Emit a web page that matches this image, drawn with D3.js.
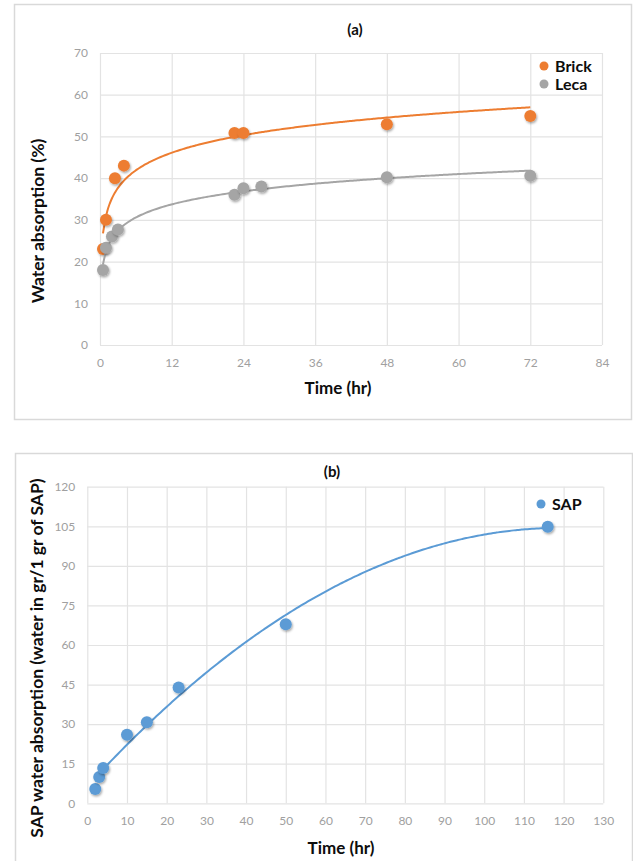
<!DOCTYPE html>
<html>
<head>
<meta charset="utf-8">
<script src="https://cdn.jsdelivr.net/npm/d3@7"></script>
<style>
  body { margin: 0; background: #fff; }
  svg { display: block; }
  .tick text { font-family: Lato, "Liberation Sans", sans-serif; font-size: 12px; fill: #a0a0a0; }
  .tick line { stroke: #e3e3e3; stroke-width: 1.2; }
  .ttl { font-family: Lato, "Liberation Sans", sans-serif; font-weight: bold; fill: #0d0d0d; }
</style>
</head>
<body>
<script>
// (a) water absorption of brick and leca
var brickTime = [0.5, 1, 2.5, 4, 22.5, 24, 48, 72];
var brickAbs = [23, 30, 40, 43, 50.8, 50.8, 52.9, 54.9];
var lecaTime = [0.5, 1, 2, 3, 22.5, 24, 27, 48, 72];
var lecaAbs = [18, 23.3, 26, 27.7, 36, 37.6, 38, 40.2, 40.6];
var ticksA_x = [0, 12, 24, 36, 48, 60, 72, 84];
var ticksA_y = [0, 10, 20, 30, 40, 50, 60, 70];

// (b) SAP water absorption
var sapTime = [2, 3, 4, 10, 15, 23, 50, 116];
var sapAbs = [5.4, 10, 13.4, 26, 30.7, 43.9, 67.9, 104.8];
var ticksB_x = [0, 10, 20, 30, 40, 50, 60, 70, 80, 90, 100, 110, 120, 130];
var ticksB_y = [0, 15, 30, 45, 60, 75, 90, 105, 120];

var W = 633, H = 861;
var svg = d3.select("body").append("svg").attr("width", W).attr("height", H);

var defs = svg.append("defs");
defs.append("filter").attr("id", "shadow")
    .attr("x", "-50%").attr("y", "-50%").attr("width", "200%").attr("height", "200%")
    .append("feDropShadow")
    .attr("dx", 1).attr("dy", 1.5).attr("stdDeviation", 1)
    .attr("flood-color", "#000").attr("flood-opacity", 0.35);

// outer frames
svg.append("rect").attr("x", 14.5).attr("y", 4.5).attr("width", 617).attr("height", 415)
    .attr("fill", "none").attr("stroke", "#d9d9d9").attr("stroke-width", 1.5);
svg.append("rect").attr("x", 15.5).attr("y", 453.5).attr("width", 617).attr("height", 420)
    .attr("fill", "none").attr("stroke", "#d9d9d9").attr("stroke-width", 1.5);

// least squares fits (same as the excel trendlines)
function logFit(xs, ys) {
    var lx = xs.map(function(d) { return Math.log(d); });
    var mx = d3.mean(lx), my = d3.mean(ys);
    var sxy = d3.sum(lx, function(d, i) { return (d - mx) * (ys[i] - my); });
    var sxx = d3.sum(lx, function(d) { return (d - mx) * (d - mx); });
    var a = sxy / sxx, b = my - a * mx;
    return function(x) { return a * Math.log(x) + b; };
}

function polyFit2(xs, ys) {
    // normal equations for y = c0 + c1 x + c2 x^2
    var s = [0, 0, 0, 0, 0], t = [0, 0, 0];
    xs.forEach(function(x, i) {
        for (var k = 0; k < 5; k++) s[k] += Math.pow(x, k);
        for (var k = 0; k < 3; k++) t[k] += ys[i] * Math.pow(x, k);
    });
    var m = [[s[0], s[1], s[2], t[0]], [s[1], s[2], s[3], t[1]], [s[2], s[3], s[4], t[2]]];
    for (var c = 0; c < 3; c++) {
        for (var r = c + 1; r < 3; r++) {
            var f = m[r][c] / m[c][c];
            for (var k = c; k < 4; k++) m[r][k] -= f * m[c][k];
        }
    }
    var co = [0, 0, 0];
    for (var r = 2; r >= 0; r--) {
        var v = m[r][3];
        for (var k = r + 1; k < 3; k++) v -= m[r][k] * co[k];
        co[r] = v / m[r][r];
    }
    return function(x) { return co[0] + co[1] * x + co[2] * x * x; };
}

function drawPanel(opt) {
    var x = d3.scaleLinear().domain(opt.xDomain).range(opt.xRange);
    var y = d3.scaleLinear().domain(opt.yDomain).range(opt.yRange);
    var g = svg.append("g");

    var xAxis = g.append("g")
        .attr("transform", "translate(0," + opt.yRange[0] + ")")
        .call(d3.axisBottom(x).tickValues(opt.xTicks)
            .tickSize(-(opt.yRange[0] - opt.yRange[1])).tickPadding(13));
    xAxis.select(".domain").remove();

    var yAxis = g.append("g")
        .attr("transform", "translate(" + opt.xRange[0] + ",0)")
        .call(d3.axisLeft(y).tickValues(opt.yTicks)
            .tickSize(-(opt.xRange[1] - opt.xRange[0])).tickPadding(12));
    yAxis.select(".domain").remove();

    g.append("text").attr("class", "ttl")
        .attr("x", opt.titlePos[0]).attr("y", opt.titlePos[1])
        .attr("text-anchor", "middle").style("font-size", "15px")
        .text(opt.title);

    g.append("text").attr("class", "ttl")
        .attr("x", opt.xLabelPos[0]).attr("y", opt.xLabelPos[1])
        .attr("text-anchor", "middle").style("font-size", "17px")
        .text("Time (hr)");

    g.append("text").attr("class", "ttl")
        .attr("transform", "translate(" + opt.yLabelPos[0] + "," + opt.yLabelPos[1] + ") rotate(-90)")
        .attr("text-anchor", "middle").style("font-size", "17.5px")
        .text(opt.yLabel);

    var line = d3.line()
        .x(function(d) { return x(d[0]); })
        .y(function(d) { return y(d[1]); })
        .curve(d3.curveBasis);

    opt.series.forEach(function(s, si) {
        var xs = s.xs;
        var lo = d3.min(xs), hi = d3.max(xs);
        var pts = d3.range(0, 201).map(function(i) {
            var t = lo + (hi - lo) * i / 200;
            return [t, s.fit(t)];
        });
        g.append("path").attr("d", line(pts))
            .attr("fill", "none").attr("stroke", s.color).attr("stroke-width", 2);

        g.append("g").selectAll("circle")
            .data(xs.map(function(d, i) { return [d, s.ys[i]]; }))
            .enter().append("circle")
            .attr("cx", function(d) { return x(d[0]); })
            .attr("cy", function(d) { return y(d[1]); })
            .attr("r", 6)
            .attr("fill", s.color)
            .attr("filter", "url(#shadow)");

        // legend
        var ly = opt.legendPos[1] + si * 18;
        g.append("circle").attr("cx", opt.legendPos[0]).attr("cy", ly).attr("r", 4.5)
            .attr("fill", s.color);
        g.append("text").attr("class", "ttl")
            .attr("x", opt.legendPos[0] + 11).attr("y", ly + 5.5)
            .style("font-size", "16px")
            .text(s.name);
    });
}

drawPanel({
    xDomain: [0, 84], xRange: [100, 602],
    yDomain: [0, 70], yRange: [345, 53],
    xTicks: ticksA_x, yTicks: ticksA_y,
    title: "(a)", titlePos: [355, 35],
    xLabelPos: [338, 394],
    yLabel: "Water absorption (%)", yLabelPos: [44, 221],
    legendPos: [544, 66],
    series: [
        { name: "Brick", xs: brickTime, ys: brickAbs, color: "#ed7d31", fit: logFit(brickTime, brickAbs) },
        { name: "Leca", xs: lecaTime, ys: lecaAbs, color: "#a5a5a5", fit: logFit(lecaTime, lecaAbs) }
    ]
});

drawPanel({
    xDomain: [0, 130], xRange: [87.3, 603.3],
    yDomain: [0, 120], yRange: [803.3, 486.7],
    xTicks: ticksB_x, yTicks: ticksB_y,
    title: "(b)", titlePos: [332, 477],
    xLabelPos: [341, 854],
    yLabel: "SAP water absorption (water in gr/1 gr of SAP)", yLabelPos: [43, 658],
    legendPos: [541, 504],
    series: [
        { name: "SAP", xs: sapTime, ys: sapAbs, color: "#5b9bd5", fit: polyFit2(sapTime, sapAbs) }
    ]
});
</script>
</body>
</html>
